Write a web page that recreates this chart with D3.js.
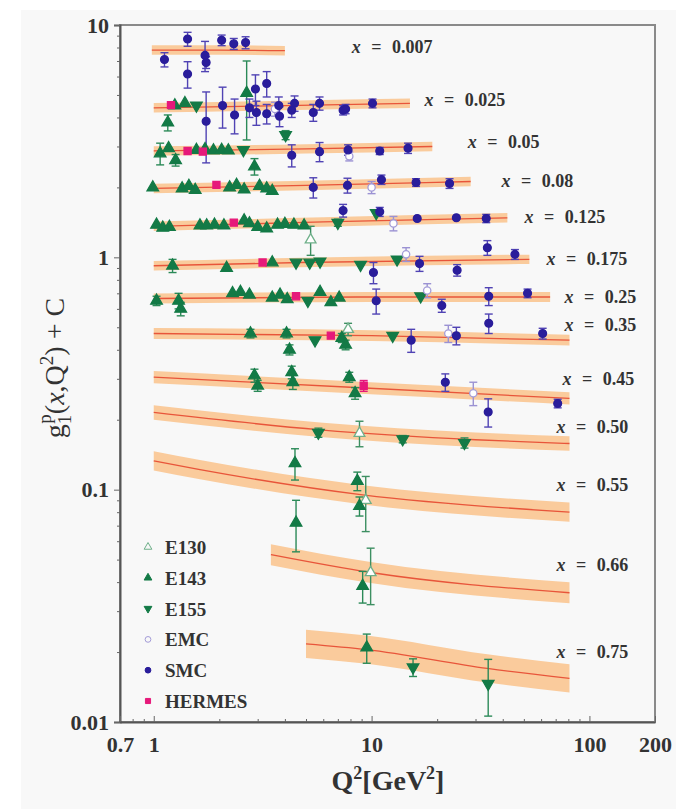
<!DOCTYPE html>
<html>
<head>
<meta charset="utf-8">
<script src="https://cdn.jsdelivr.net/npm/d3@7"></script>
<style>
  body { margin: 0; background: #fff; }
  text { font-family: "Liberation Serif", "Times New Roman", serif; fill: #333; }
</style>
</head>
<body>
<div id="chart"></div>
<script>
// Bjorken-x bins, fit curves (Q^2, g1 + C) and relative band width
const bins = ['0.007', '0.025', '0.05', '0.08', '0.125', '0.175', '0.25', '0.35', '0.45', '0.50', '0.55', '0.66', '0.75'];
const curves = [
  [[0.98, 7.8], [2, 7.8], [4, 7.75]],
  [[1, 4.4], [4, 4.5], [15, 4.6]],
  [[1, 2.87], [5, 2.93], [19, 3.0]],
  [[1, 1.98], [5, 2.04], [28.5, 2.12]],
  [[1, 1.36], [6, 1.42], [42, 1.48]],
  [[1, 0.92], [4.7, 0.95], [53, 0.98]],
  [[1, 0.665], [10, 0.675], [66, 0.675]],
  [[1, 0.47], [10, 0.46], [81, 0.44]],
  [[1, 0.305], [8, 0.276], [81, 0.247]],
  [[1, 0.215], [5.8, 0.181], [30, 0.164], [81, 0.158]],
  [[1, 0.133], [1.63, 0.122], [9.1, 0.095], [81, 0.080]],
  [[3.45, 0.0525], [9.9, 0.044], [81, 0.036]],
  [[5, 0.0217], [9.5, 0.0205], [34, 0.017], [81, 0.0154]]
];
const bandRel = [0.048, 0.048, 0.048, 0.048, 0.048, 0.048, 0.05, 0.055, 0.062, 0.075, 0.1, 0.11, 0.15];
// where each "x = ..." label sits, in (Q^2, g1 + C)
const labelAt = [[8.1, 8.04], [17.5, 4.75], [27.6, 3.13], [39.5, 2.13], [50.3, 1.49], [63.5, 0.98],
  [76.8, 0.675], [76.8, 0.51], [75.2, 0.30], [70.6, 0.187], [70.6, 0.105], [70.6, 0.0475], [70.6, 0.0201]];

// measurements: [Q^2, g1 + C, error]
const e130 = [[5.25, 1.19, 0.17], [7.8, 0.49, 0.03], [8.8, 0.175, 0.022], [9.4, 0.09, 0.024], [9.9, 0.044, 0.012]];
const e143 = [
  [1.16, 3.8, 0.3], [1.25, 4.5, 0.15], [1.39, 4.6, 0.15], [2.67, 5.1, 1.9],
  [1.07, 2.8, 0.3], [1.17, 2.95, 0.1], [1.26, 2.62, 0.15], [1.57, 2.9, 0.08], [1.72, 2.92, 0.08], [1.88, 2.88, 0.08],
  [2.05, 2.9, 0.08], [2.2, 2.88, 0.08], [2.9, 2.46, 0.2],
  [0.99, 2.0, 0.05], [1.35, 1.98, 0.05], [1.45, 2.03, 0.05], [1.55, 1.95, 0.05], [2.23, 2.0, 0.05], [2.4, 2.05, 0.05],
  [2.6, 1.96, 0.05], [3.06, 2.03, 0.05], [3.3, 1.98, 0.05], [3.5, 1.93, 0.05],
  [1.03, 1.38, 0.04], [1.1, 1.34, 0.04], [1.18, 1.35, 0.04], [1.63, 1.37, 0.03], [1.75, 1.37, 0.03], [1.9, 1.38, 0.03],
  [2.1, 1.37, 0.03], [2.6, 1.44, 0.03], [2.75, 1.4, 0.03], [3.0, 1.35, 0.03], [3.3, 1.33, 0.03], [3.7, 1.38, 0.03],
  [4.0, 1.39, 0.03], [4.4, 1.38, 0.03], [4.9, 1.37, 0.03],
  [1.22, 0.92, 0.06], [2.16, 0.9, 0.03], [3.5, 0.95, 0.03],
  [1.03, 0.65, 0.03], [1.3, 0.65, 0.05], [1.33, 0.6, 0.04], [2.3, 0.7, 0.02], [2.5, 0.71, 0.02], [2.75, 0.69, 0.02],
  [3.5, 0.67, 0.02], [3.8, 0.69, 0.02], [4.1, 0.66, 0.02], [5.8, 0.71, 0.02], [6.5, 0.64, 0.02], [7.1, 0.67, 0.02],
  [2.78, 0.47, 0.02], [4.07, 0.47, 0.02], [4.2, 0.4, 0.02], [7.3, 0.45, 0.02], [7.6, 0.42, 0.02],
  [2.9, 0.31, 0.02], [3.0, 0.28, 0.015], [4.3, 0.32, 0.02], [4.35, 0.29, 0.02], [7.9, 0.305, 0.015], [8.4, 0.26, 0.015],
  [4.45, 0.13, 0.02], [4.5, 0.072, 0.018], [8.6, 0.109, 0.01], [8.8, 0.085, 0.008],
  [9.1, 0.0385, 0.006],
  [9.5, 0.0209, 0.003]
];
const e155 = [
  [1.57, 4.5, 0.15], [2.58, 2.9, 0.1], [4.03, 3.36, 0.15], [7.0, 1.41, 0.05], [10.5, 1.55, 0.05],
  [4.5, 0.95, 0.03], [5.2, 0.95, 0.03], [5.8, 0.96, 0.03], [8.9, 0.93, 0.03], [13.1, 0.98, 0.03],
  [5.1, 0.65, 0.02], [16.8, 0.68, 0.02], [5.5, 0.44, 0.015], [12.5, 0.46, 0.015],
  [5.7, 0.176, 0.008], [13.9, 0.165, 0.006], [26.7, 0.159, 0.008],
  [15.5, 0.0172, 0.0015], [34.3, 0.0146, 0.004]
];
const emc = [[3.6, 4.35, 0.3], [7.9, 2.72, 0.12], [10, 2.0, 0.12], [12.6, 1.4, 0.1], [14.4, 1.03, 0.07],
  [18, 0.72, 0.05], [22.5, 0.47, 0.04], [29.3, 0.26, 0.03]];
const smc = [
  [1.12, 7.1, 0.5], [1.43, 8.7, 0.6], [1.43, 6.15, 0.8], [1.72, 7.4, 1.1], [1.74, 6.9, 0.4], [2.05, 8.6, 0.45],
  [2.33, 8.3, 0.45], [2.64, 8.4, 0.5],
  [1.74, 3.85, 1.3], [2.07, 4.5, 0.9], [2.35, 4.1, 0.7], [2.75, 4.4, 0.4], [2.93, 5.3, 0.8], [2.96, 4.2, 0.5],
  [3.3, 5.6, 0.7], [3.3, 4.15, 0.4], [3.75, 4.5, 0.4], [3.78, 4.05, 0.4], [4.3, 4.3, 0.3], [4.43, 4.6, 0.35],
  [5.4, 4.2, 0.35], [5.77, 4.6, 0.3], [7.4, 4.3, 0.2], [7.6, 4.35, 0.2], [10.1, 4.6, 0.2],
  [4.3, 2.75, 0.3], [5.77, 2.85, 0.27], [7.8, 2.9, 0.15], [10.9, 2.87, 0.1], [14.7, 2.95, 0.15],
  [5.4, 2.0, 0.2], [7.75, 2.04, 0.15], [11.1, 2.16, 0.1], [16, 2.1, 0.08], [22.8, 2.08, 0.1],
  [7.4, 1.59, 0.1], [10.9, 1.57, 0.07], [16.2, 1.47, 0.05], [24.5, 1.48, 0.05], [33.6, 1.47, 0.06],
  [10.2, 0.86, 0.09], [16.6, 0.94, 0.07], [24.7, 0.88, 0.05], [34, 1.1, 0.08], [45.5, 1.03, 0.05],
  [10.5, 0.65, 0.08], [21, 0.62, 0.04], [34.5, 0.68, 0.06], [52, 0.70, 0.03],
  [15.2, 0.44, 0.05], [24.5, 0.46, 0.04], [34.5, 0.52, 0.05], [61, 0.47, 0.025],
  [21.8, 0.29, 0.025], [34.3, 0.216, 0.03], [71.5, 0.235, 0.01]
];
const hermes = [[1.2, 4.52, 0.1], [1.43, 2.87, 0.06], [1.68, 2.85, 0.06], [1.94, 2.05, 0.04], [2.33, 1.41, 0.03],
  [3.16, 0.95, 0.02], [4.5, 0.68, 0.015], [6.5, 0.46, 0.012], [9.2, 0.28, 0.015]];

const xTickLabels = [0.7, 1, 10, 100, 200];
const yTickLabels = [0.01, 0.1, 1, 10];

const W = 688, H = 809;
const margin = { top: 25, right: 33, bottom: 87, left: 120 };

const svg = d3.select('#chart').append('svg')
  .attr('width', W)
  .attr('height', H);

svg.append('rect')
  .attr('x', 21).attr('y', 10)
  .attr('width', 655).attr('height', 799)
  .attr('fill', '#f8f8f8');

const x = d3.scaleLog().domain([0.7, 200]).range([margin.left, W - margin.right]);
const y = d3.scaleLog().domain([0.01, 10]).range([H - margin.bottom, margin.top]);

// minor ticks for both log axes
const minorX = [];
[0.1, 1, 10, 100].forEach(p => d3.range(2, 10).forEach(k => { const v = k * p; if (v > 0.7 && v < 200 && v !== 1) minorX.push(v) }));
const minorY = [];
[0.01, 0.1, 1].forEach(p => d3.range(2, 10).forEach(k => minorY.push(k * p)));

// frame
svg.append('rect')
  .attr('x', x(0.7)).attr('y', y(10))
  .attr('width', x(200) - x(0.7)).attr('height', y(0.01) - y(10))
  .attr('fill', 'none')
  .attr('stroke', '#8a8a8a')
  .attr('stroke-width', 2);

// bands and central curves
const plot = svg.append('g');
bins.forEach((b, i) => {
  const r = bandRel[i];
  const area = d3.area()
    .x(d => x(d[0]))
    .y0(d => y(d[1] / (1 + r)))
    .y1(d => y(d[1] * (1 + r)))
    .curve(d3.curveMonotoneX);
  const line = d3.line()
    .x(d => x(d[0]))
    .y(d => y(d[1]))
    .curve(d3.curveMonotoneX);
  plot.append('path').datum(curves[i]).attr('d', area).attr('fill', '#facb9c');
  plot.append('path').datum(curves[i]).attr('d', line)
    .attr('fill', 'none').attr('stroke', '#e8553a').attr('stroke-width', 1.3);
});

const sets = [
  { name: 'E130', data: e130, shape: d3.symbolTriangle, size: 50, fill: '#fff', stroke: '#6fb08a', bar: '#3d8f62', flip: false },
  { name: 'E143', data: e143, shape: d3.symbolTriangle, size: 58, fill: '#137a46', stroke: '#137a46', bar: '#2b8a58', flip: false },
  { name: 'E155', data: e155, shape: d3.symbolTriangle, size: 58, fill: '#137a46', stroke: '#137a46', bar: '#2b8a58', flip: true },
  { name: 'EMC', data: emc, shape: d3.symbolCircle, size: 42, fill: '#fff', stroke: '#a49cd8', bar: '#9b92d3', flip: false },
  { name: 'SMC', data: smc, shape: d3.symbolCircle, size: 48, fill: '#2a1d9b', stroke: '#2a1d9b', bar: '#5043b4', flip: false },
  { name: 'HERMES', data: hermes, shape: d3.symbolSquare, size: 50, fill: '#e6197a', stroke: '#e6197a', bar: '#e6197a', flip: false }
];

// error bars
sets.forEach(s => {
  const g = plot.append('g').attr('stroke', s.bar).attr('stroke-width', 1.4);
  s.data.forEach(d => {
    const cx = x(d[0]);
    const lo = y(Math.max(d[1] - d[2], 0.005)), hi = y(d[1] + d[2]);
    if (Math.abs(lo - hi) < 7) return;
    g.append('line').attr('x1', cx).attr('x2', cx).attr('y1', lo).attr('y2', hi);
    g.append('line').attr('x1', cx - 4).attr('x2', cx + 4).attr('y1', lo).attr('y2', lo);
    g.append('line').attr('x1', cx - 4).attr('x2', cx + 4).attr('y1', hi).attr('y2', hi);
  });
});

// markers
sets.forEach(s => {
  plot.append('g').selectAll('path')
    .data(s.data)
    .join('path')
      .attr('d', d3.symbol().type(s.shape).size(s.size))
      .attr('transform', d => 'translate(' + x(d[0]) + ',' + y(d[1]) + ')' + (s.flip ? ' rotate(180)' : ''))
      .attr('fill', s.fill)
      .attr('stroke', s.stroke)
      .attr('stroke-width', 1.3);
});

// x = ... labels
bins.forEach((b, i) => {
  const t = svg.append('text')
    .attr('x', x(labelAt[i][0]))
    .attr('y', y(labelAt[i][1]) + 6)
    .attr('font-size', 18)
    .attr('font-weight', 'bold')
    .attr('fill', '#3a3a3a')
    .attr('word-spacing', 6);
  t.append('tspan').attr('font-style', 'italic').text('x');
  t.append('tspan').text(' = ' + b);
});

// legend
const legend = svg.append('g').attr('transform', 'translate(148,547)');
sets.forEach((s, i) => {
  const row = legend.append('g').attr('transform', 'translate(0,' + i * 30.8 + ')');
  row.append('path')
    .attr('d', d3.symbol().type(s.shape).size(26))
    .attr('transform', s.flip ? 'rotate(180)' : null)
    .attr('fill', s.fill === '#fff' ? 'none' : s.fill)
    .attr('stroke', s.stroke);
  row.append('text')
    .attr('x', 17).attr('y', 7)
    .attr('font-size', 19)
    .attr('font-weight', 'bold')
    .attr('fill', '#3a3a3a')
    .text(s.name);
});

// axes
const yAxis = svg.append('g')
  .attr('transform', 'translate(' + x(0.7) + ',0)')
  .call(d3.axisLeft(y).tickValues(yTickLabels).tickSize(6).tickPadding(5).tickFormat(d => String(d)));
svg.append('g')
  .attr('transform', 'translate(' + x(0.7) + ',0)')
  .call(d3.axisLeft(y).tickValues(minorY).tickSize(3).tickFormat(''))
  .call(g => g.select('.domain').remove());

const xAxis = svg.append('g')
  .attr('transform', 'translate(0,' + y(0.01) + ')')
  .call(d3.axisBottom(x).tickValues(xTickLabels).tickSizeInner(-6).tickSizeOuter(0).tickPadding(14).tickFormat(d => String(d)));
svg.append('g')
  .attr('transform', 'translate(0,' + y(0.01) + ')')
  .call(d3.axisBottom(x).tickValues(minorX).tickSize(-3).tickFormat(''))
  .call(g => g.select('.domain').remove());

svg.selectAll('.tick line').attr('stroke', '#666');
svg.selectAll('.domain').attr('stroke', '#555').attr('stroke-width', 2);
[yAxis, xAxis].forEach(a => a.selectAll('text')
  .attr('font-family', '"Liberation Serif", serif')
  .attr('font-weight', 'bold')
  .attr('font-size', 22)
  .attr('fill', '#333'));

// axis titles
const xt = svg.append('text')
  .attr('x', 388).attr('y', 790)
  .attr('text-anchor', 'middle')
  .attr('font-size', 28)
  .attr('font-weight', 'bold');
xt.append('tspan').text('Q');
xt.append('tspan').attr('dy', -11).attr('font-size', 18).text('2');
xt.append('tspan').attr('dy', 11).text('[GeV');
xt.append('tspan').attr('dy', -11).attr('font-size', 18).text('2');
xt.append('tspan').attr('dy', 11).text(']');

const yt = svg.append('text')
  .attr('transform', 'translate(64,368) rotate(-90)')
  .attr('text-anchor', 'middle')
  .attr('font-size', 28);
yt.append('tspan').text('g');
yt.append('tspan').attr('dy', 7).attr('font-size', 19).text('1');
yt.append('tspan').attr('dy', -20).attr('dx', -9).attr('font-size', 19).text('p');
yt.append('tspan').attr('dy', 13).text('(');
yt.append('tspan').attr('font-style', 'italic').text('x');
yt.append('tspan').text(',Q');
yt.append('tspan').attr('dy', -11).attr('font-size', 19).text('2');
yt.append('tspan').attr('dy', 11).text(') + C');
</script>
</body>
</html>
